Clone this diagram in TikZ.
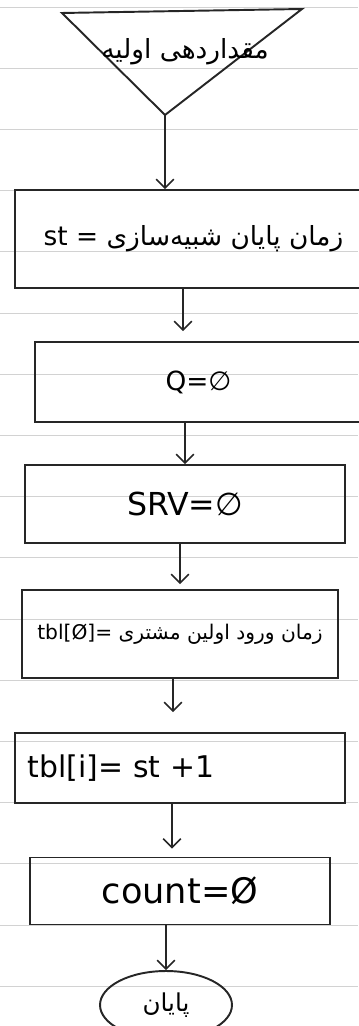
\documentclass[tikz,border=0pt]{standalone}
\usepackage{fontspec}
\setmainfont{DejaVu Sans}
\newfontfamily\fa[Script=Arabic]{DejaVu Sans}
\TeXXeTstate=1
\newcommand{\fatext}[1]{{\fa\beginR #1\endR}}
\usetikzlibrary{arrows.meta, shapes.geometric, positioning}

\begin{document}
\begin{tikzpicture}[
    x=0.02cm, y=-0.02cm,
    stepbox/.style={
        rectangle, draw=black!85, line width=1.1pt,
        inner sep=4pt, align=center
    },
    terminal/.style={
        ellipse, draw=black!85, line width=1.1pt,
        minimum width=2.64cm, minimum height=1.36cm
    },
    arrow/.style={-{Straight Barb[length=5pt,width=10pt]}, line width=0.9pt, black!85},
    rule/.style={gray!35, line width=0.4pt},
]
\useasboundingbox (0,0) rectangle (358,1026);

% خطوط دفتر
\foreach \k in {0,...,16}
    \draw[rule] (0,7+61.2*\k) -- (358,7+61.2*\k);

% مقداردهی اولیه
\coordinate (apex) at (165,115);
\draw[line width=1.1pt, black!85] (62,13) -- (302,9) -- (apex) -- cycle;
\node[font=\fontsize{15}{17}\selectfont] (init) at (185,52)
    {\fatext{مقداردهی اولیه}};

% بلوک ها
\node[stepbox, minimum width=7.14cm, minimum height=1.96cm,
      font=\fontsize{15}{18}\selectfont] (simend) at (193.5,239)
    {st = \fatext{زمان پایان شبیه‌سازی}};
\node[stepbox, minimum width=6.54cm, minimum height=1.6cm,
      font=\fontsize{15}{18}\selectfont] (queue) at (198.5,382)
    {Q=∅};
\node[stepbox, minimum width=6.4cm, minimum height=1.56cm,
      font=\fontsize{18}{20}\selectfont] (server) at (185,504)
    {SRV=∅};
\node[stepbox, minimum width=6.32cm, minimum height=1.76cm,
      font=\fontsize{11.5}{14}\selectfont] (tblzero) at (180,634)
    {tbl[Ø]= \fatext{زمان ورود اولین مشتری}};
\node[stepbox, minimum width=6.6cm, minimum height=1.4cm,
      text width=6.1cm, align=left,
      font=\fontsize{17}{20}\selectfont] (tblone) at (180,768)
    {tbl[i]= st +1};
\node[stepbox, minimum width=6.0cm, minimum height=1.34cm,
      font=\fontsize{20}{22}\selectfont] (counter) at (180,891)
    {count=Ø};
\node[terminal, font=\fontsize{14}{16}\selectfont] (finish) at (166,1005)
    {\fatext{پایان}};

% پیکان ها
\draw[arrow] (apex) -- (apex |- simend.north);
\draw[arrow, shorten >=0.2cm] ([xshift=-0.21cm]simend.south)
    -- ([xshift=-0.21cm]simend.south |- queue.north);
\draw[arrow] (queue.south -| server.north) -- (server.north);
\draw[arrow, shorten >=0.1cm] (server.south -| tblzero.north) -- (tblzero.north);
\draw[arrow, shorten >=0.4cm] ([xshift=-0.14cm]tblzero.south)
    -- ([xshift=-0.14cm]tblzero.south |- tblone.north);
\draw[arrow, shorten >=0.16cm] ([xshift=-0.16cm]tblone.south)
    -- ([xshift=-0.16cm]tblone.south |- counter.north);
\draw[arrow] (counter.south -| finish.north) -- (finish.north);
\end{tikzpicture}
\end{document}
